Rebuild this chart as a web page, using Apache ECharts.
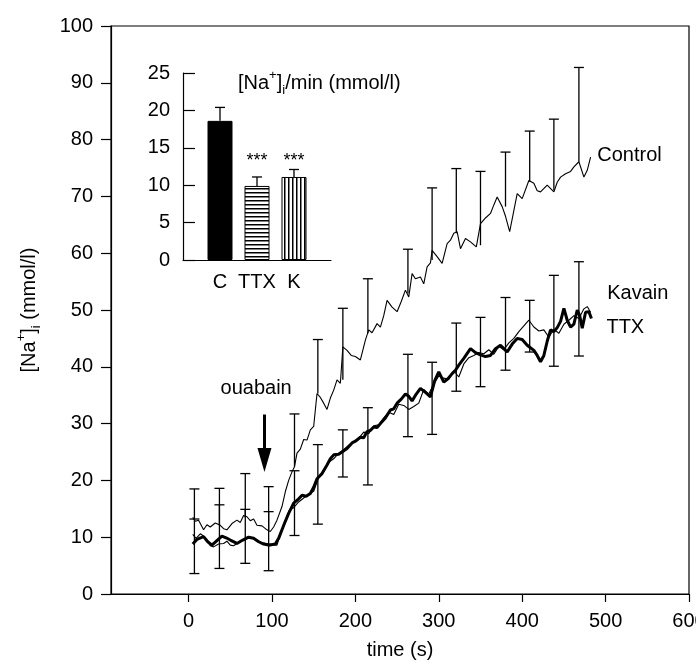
<!DOCTYPE html>
<html>
<head>
<meta charset="utf-8">
<script src="https://cdn.jsdelivr.net/npm/echarts@6/dist/echarts.min.js"></script>
<style>
html, body { margin: 0; padding: 0; background: #fff; }
#chart { width: 696px; height: 667px; }
</style>
</head>
<body>
<div id="chart"></div>
<script>
// main panel: [Na+]i vs time
const timeTicks = [0, 100, 200, 300, 400, 500, 600];

const controlData = [
  [5, 13.5], [8, 12.8], [12, 13.0], [18, 11.3], [22, 12.2], [26, 11.8], [32, 12.5], [38, 12.1],
  [42, 11.5], [46, 11.3], [52, 12.4], [58, 13.0], [62, 12.6], [66, 13.8], [70, 13.6], [74, 12.9],
  [78, 13.2], [82, 12.1], [88, 12.0], [94, 11.3], [98, 11.0], [102, 11.8], [106, 13.0], [112, 15.4],
  [116, 18.0], [120, 20.0], [124, 21.5], [127, 22.4], [130, 24.8], [134, 25.5], [138, 27.2], [142, 27.1],
  [146, 28.9], [150, 29.5], [154, 35.3], [158, 34.6], [162, 33.6], [166, 32.5], [170, 34.5], [174, 35.9],
  [178, 37.7], [182, 37.1], [185, 43.5], [190, 42.9], [195, 42.0], [200, 41.8], [206, 41.2], [212, 44.7],
  [216, 46.5], [220, 46.0], [226, 47.6], [230, 47.0], [234, 49.0], [238, 51.7], [244, 50.5], [250, 49.7],
  [255, 51.5], [260, 53.5], [264, 52.3], [268, 56.4], [272, 55.5], [278, 55.8], [282, 54.6], [286, 57.6],
  [290, 58.3], [292, 60.5], [298, 59.4], [304, 58.2], [310, 61.7], [314, 62.3], [318, 63.5], [322, 63.8],
  [326, 60.8], [332, 62.6], [338, 62.0], [345, 61.1], [350, 65.2], [356, 66.2], [362, 67.0], [366, 68.5],
  [370, 69.9], [376, 68.2], [380, 66.5], [385, 63.8], [390, 67.5], [394, 70.5], [400, 69.6], [408, 72.8],
  [414, 72.3], [418, 71.0], [422, 70.8], [430, 72.0], [438, 70.8], [442, 72.5], [446, 73.4], [452, 74.0],
  [458, 74.4], [462, 75.2], [468, 76.1], [474, 73.4], [478, 74.6], [482, 76.9]
];

const kavainData = [
  [5, 10.5], [9, 9.8], [14, 10.6], [18, 10.2], [22, 9.5], [26, 8.5], [30, 8.3], [36, 8.8], [42, 8.9],
  [46, 9.3], [50, 8.6], [54, 8.5], [58, 8.9], [64, 9.4], [70, 9.8], [76, 9.9], [82, 9.5], [88, 9.0],
  [94, 8.9], [100, 8.7], [106, 8.6], [110, 10.5], [116, 13.0], [121, 14.8], [126, 15.2], [132, 16.2],
  [138, 16.9], [144, 17.6], [150, 18.1], [156, 20.5], [162, 21.5], [168, 23.2], [174, 23.8], [180, 24.8],
  [186, 25.4], [192, 26.2], [198, 26.8], [204, 27.4], [210, 28.5], [216, 28.2], [222, 29.6], [228, 29.8],
  [234, 31.0], [240, 32.0], [246, 31.6], [252, 33.4], [258, 33.2], [264, 32.5], [270, 33.0], [276, 33.6],
  [282, 36.0], [288, 35.2], [294, 37.0], [300, 38.4], [306, 38.0], [312, 37.8], [318, 39.3], [324, 38.2],
  [330, 40.5], [336, 41.6], [342, 42.0], [348, 42.5], [354, 42.3], [360, 43.0], [366, 42.2], [372, 43.6],
  [378, 43.0], [384, 44.2], [390, 45.0], [396, 46.2], [402, 47.2], [408, 48.2], [414, 47.0], [420, 46.3],
  [426, 46.5], [432, 45.2], [438, 46.6], [444, 45.9], [450, 47.5], [456, 48.2], [462, 49.0], [468, 48.5],
  [474, 50.2], [478, 50.6], [482, 49.6]
];

const ttxData = [
  [5, 8.8], [10, 9.6], [18, 10.1], [23, 9.2], [28, 8.6], [34, 9.4], [40, 10.2], [45, 9.9], [50, 9.5],
  [58, 8.9], [65, 9.5], [72, 10.0], [78, 9.8], [84, 9.2], [90, 8.8], [96, 8.6], [104, 8.8], [108, 9.8],
  [112, 11.3], [116, 12.8], [120, 14.2], [126, 16.0], [131, 16.6], [136, 17.4], [141, 17.2], [146, 17.7],
  [150, 18.8], [154, 20.3], [160, 21.2], [166, 22.7], [170, 23.8], [174, 24.5], [180, 24.6], [184, 25.0],
  [190, 25.6], [196, 26.6], [200, 26.9], [206, 27.6], [210, 27.5], [214, 28.6], [218, 28.8], [222, 29.4],
  [226, 29.3], [230, 30.0], [236, 31.0], [242, 32.4], [246, 32.6], [250, 33.6], [255, 34.3], [260, 35.2],
  [264, 34.8], [268, 34.0], [273, 35.2], [278, 36.2], [284, 35.5], [290, 34.7], [295, 37.5], [300, 39.1],
  [306, 37.3], [311, 37.9], [316, 38.8], [320, 39.4], [324, 40.3], [330, 41.5], [338, 43.2], [344, 42.5],
  [350, 42.1], [356, 41.8], [362, 42.0], [368, 43.2], [374, 43.8], [378, 43.2], [382, 42.6], [388, 44.0],
  [394, 45.0], [400, 44.8], [406, 43.8], [414, 42.9], [418, 42.0], [422, 40.9], [426, 42.0], [430, 44.5],
  [434, 46.5], [438, 46.2], [442, 46.9], [446, 48.0], [450, 50.3], [454, 48.2], [458, 47.0], [462, 47.5],
  [466, 50.0], [469, 49.0], [472, 46.8], [476, 49.6], [480, 49.7], [483, 48.5]
];

// error bars (same time points for both groups)
const errTimes = [7, 37, 68, 96, 127, 155, 185, 215, 263, 292, 321, 350, 380, 409, 438, 468];
const controlErrBase = [13.2, 12.1, 13.5, 11.3, 22.4, 35.3, 37.7, 45.9, 52.9, 58.8, 63.5, 61.4, 68.2, 72.6, 71.1, 76.1];
const controlErrTop = [18.5, 18.6, 21.2, 18.9, 31.7, 44.8, 50.3, 55.5, 60.7, 71.5, 74.9, 74.4, 77.8, 81.5, 83.6, 92.7];
const ttxErrLow = [3.6, 4.5, 5.4, 4.1, 10.3, 12.3, 20.6, 19.2, 27.7, 28.1, 35.7, 36.5, 39.4, 42.6, 40.1, 41.9];
const ttxErrHigh = [13.2, 15.7, 14.9, 14.5, 21.7, 26.3, 28.9, 32.8, 42.2, 40.8, 47.7, 48.7, 52.2, 51.7, 56.1, 58.5];

// inset: rate of rise
const insetCats = ['C', 'TTX', 'K'];
const insetMeans = [18.6, 9.9, 11.1];
const insetErrTop = [20.4, 11.1, 12.1];
const insetSig = ['', '***', '***'];

const FONT = 'Liberation Sans, Arial, Helvetica, sans-serif';
const BLACK = '#000';
const FS = 20;

function stripes(horizontal) {
  const c = document.createElement('canvas');
  c.width = 4; c.height = 4;
  const ctx = c.getContext('2d');
  ctx.fillStyle = '#fff';
  ctx.fillRect(0, 0, 4, 4);
  ctx.fillStyle = BLACK;
  if (horizontal) ctx.fillRect(0, 0, 4, 1.5);
  else ctx.fillRect(0, 0, 1.5, 4);
  return c;
}

function errRender(bottomCap, halfCap) {
  return function (params, api) {
    const x = api.value(0);
    const lo = api.coord([x, api.value(1)]);
    const hi = api.coord([x, api.value(2)]);
    const st = { stroke: BLACK, lineWidth: 1.3 };
    const kids = [
      { type: 'line', shape: { x1: lo[0], y1: lo[1], x2: hi[0], y2: hi[1] }, style: st },
      { type: 'line', shape: { x1: hi[0] - halfCap, y1: hi[1], x2: hi[0] + halfCap, y2: hi[1] }, style: st }
    ];
    if (bottomCap) {
      kids.push({ type: 'line', shape: { x1: lo[0] - halfCap, y1: lo[1], x2: lo[0] + halfCap, y2: lo[1] }, style: st });
    }
    return { type: 'group', children: kids };
  };
}

const naRich = {
  base: { fontSize: FS, fontFamily: FONT, color: BLACK, lineHeight: 28, verticalAlign: 'middle' },
  sup: { fontSize: 13, fontFamily: FONT, color: BLACK, lineHeight: 15, verticalAlign: 'top' },
  sub: { fontSize: 13, fontFamily: FONT, color: BLACK, lineHeight: 13, verticalAlign: 'bottom' }
};

const chart = echarts.init(document.getElementById('chart'));

const axisLineStyle = { color: BLACK, width: 1.2 };
const labelStyle = { color: BLACK, fontSize: FS, fontFamily: FONT };

chart.setOption({
  animation: false,
  backgroundColor: '#fff',
  textStyle: { fontFamily: FONT, color: BLACK },
  grid: [
    {
      left: 111, right: 7, top: 26, bottom: 73, containLabel: false, outerBoundsMode: 'none',
      show: true, borderColor: BLACK, borderWidth: 1.2, backgroundColor: 'transparent'
    },
    { left: 183, top: 73, width: 148, height: 187, containLabel: false, outerBoundsMode: 'none' }
  ],
  xAxis: [
    {
      type: 'value', gridIndex: 0, min: -93, max: 600,
      axisLine: { show: true, onZero: false, lineStyle: axisLineStyle },
      axisTick: { show: true, customValues: timeTicks, length: 8, lineStyle: axisLineStyle },
      axisLabel: { customValues: timeTicks, margin: 17, ...labelStyle },
      splitLine: { show: false },
      name: 'time (s)', nameLocation: 'middle', nameGap: 46,
      nameTextStyle: labelStyle
    },
    {
      type: 'category', gridIndex: 1, data: ['', ...insetCats, ''], boundaryGap: false,
      axisLine: { show: true, onZero: false, lineStyle: axisLineStyle },
      axisTick: { show: false },
      axisLabel: { margin: 12, interval: 0, ...labelStyle },
      splitLine: { show: false }
    }
  ],
  yAxis: [
    {
      type: 'value', gridIndex: 0, min: 0, max: 100, interval: 10,
      axisLine: { show: true, onZero: false, lineStyle: axisLineStyle },
      axisTick: { show: true, length: 10, lineStyle: axisLineStyle },
      axisLabel: { margin: 18, ...labelStyle },
      splitLine: { show: false },
      name: '{base|[Na}{sup|+}{base|]}{sub|i}{base| (mmol/l)}',
      nameLocation: 'middle', nameGap: 68,
      nameTextStyle: { rich: naRich }
    },
    {
      type: 'value', gridIndex: 1, min: 0, max: 25, interval: 5,
      axisLine: { show: true, onZero: false, lineStyle: axisLineStyle },
      axisTick: { show: true, inside: true, length: 12, lineStyle: axisLineStyle },
      axisLabel: { margin: 13, ...labelStyle },
      splitLine: { show: false }
    }
  ],
  series: [
    {
      name: 'Control', type: 'line', xAxisIndex: 0, yAxisIndex: 0, data: controlData,
      symbol: 'none', lineStyle: { color: BLACK, width: 1.1 }, z: 3,
      markLine: {
        silent: true, symbol: ['none', 'triangle'], symbolSize: [14, 24],
        lineStyle: { color: BLACK, width: 3, type: 'solid' }, label: { show: false },
        data: [[{ coord: [91, 31.6] }, { coord: [91, 23.6] }]]
      }
    },
    {
      name: 'Kavain', type: 'line', xAxisIndex: 0, yAxisIndex: 0, data: kavainData,
      symbol: 'none', lineStyle: { color: BLACK, width: 1.1 }, z: 3
    },
    {
      name: 'TTX', type: 'line', xAxisIndex: 0, yAxisIndex: 0, data: ttxData,
      symbol: 'none', lineStyle: { color: BLACK, width: 3 }, z: 4
    },
    {
      type: 'custom', xAxisIndex: 0, yAxisIndex: 0, z: 5,
      data: errTimes.map((t, i) => [t, controlErrBase[i], controlErrTop[i]]),
      renderItem: errRender(false, 5)
    },
    {
      type: 'custom', xAxisIndex: 0, yAxisIndex: 0, z: 5,
      data: errTimes.map((t, i) => [t, ttxErrLow[i], ttxErrHigh[i]]),
      renderItem: errRender(true, 5)
    },
    {
      type: 'bar', xAxisIndex: 1, yAxisIndex: 1, barWidth: 25,
      data: insetCats.map((c, i) => ({
        value: [c, insetMeans[i]],
        itemStyle: {
          color: i === 0 ? BLACK : { image: stripes(i === 1), repeat: 'repeat' },
          borderColor: BLACK, borderWidth: 1
        }
      }))
    },
    {
      type: 'custom', xAxisIndex: 1, yAxisIndex: 1, z: 5,
      data: insetCats.map((c, i) => [c, insetMeans[i], insetErrTop[i]]),
      renderItem: errRender(false, 5)
    }
  ]
});

// text annotations
const px = (v) => chart.convertToPixel({ gridIndex: 0 }, v);
const pInset = (v) => chart.convertToPixel({ xAxisIndex: 1, yAxisIndex: 1 }, v);
const txt = (x, y, text, align) => ({
  type: 'text', x: x, y: y,
  style: { text: text, fill: BLACK, font: FS + 'px ' + FONT, align: align || 'left', verticalAlign: 'middle' }
});

const cLab = px([490, 77.2]);
const kLab = px([502, 52.9]);
const tLab = px([501, 47]);
const oLab = px([81, 36.1]);

const graphics = [
  txt(cLab[0], cLab[1], 'Control'),
  txt(kLab[0], kLab[1], 'Kavain'),
  txt(tLab[0], tLab[1], 'TTX'),
  txt(oLab[0], oLab[1], 'ouabain', 'center'),
  {
    type: 'text', x: 238, y: 83,
    style: {
      text: '{base|[Na}{sup|+}{base|]}{sub|i}{base|/min (mmol/l)}',
      rich: naRich, align: 'left', verticalAlign: 'middle'
    }
  }
];
insetCats.forEach((c, i) => {
  if (!insetSig[i]) return;
  const p = pInset([c, 13.2]);
  graphics.push({
    type: 'text', x: p[0], y: p[1],
    style: { text: insetSig[i], fill: BLACK, font: '18px ' + FONT, align: 'center', verticalAlign: 'middle' }
  });
});
chart.setOption({ graphic: graphics });
</script>
</body>
</html>
